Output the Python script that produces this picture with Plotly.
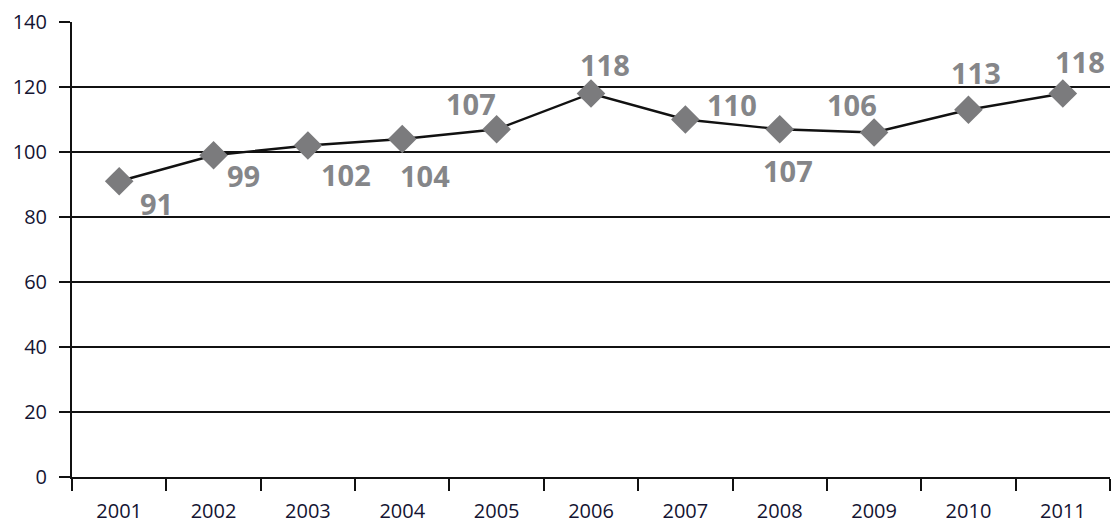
import plotly.graph_objects as go

years = ["2001", "2002", "2003", "2004", "2005", "2006", "2007", "2008", "2009", "2010", "2011"]
values = [91, 99, 102, 104, 107, 118, 110, 107, 106, 113, 118]

# pixel offsets of each value label from its marker
label_dx = [37, 30, 38, 23, -26, 14, 47, 8, -22, 8, 17]
label_dy = [-22, -20, -29, -36, 26, 29, 15, -41, 28, 37, 32]

fig = go.Figure()
fig.add_trace(go.Scatter(
    x=years, y=values, mode="lines+markers",
    line=dict(color="#111111", width=2.4),
    marker=dict(symbol="diamond", size=22, color="#7b7b7d"),
    cliponaxis=False, showlegend=False, hoverinfo="skip",
))

# on a category axis, annotations are placed by category index
for i, (v, dx, dy) in enumerate(zip(values, label_dx, label_dy)):
    fig.add_annotation(
        x=i, y=v, text=str(v), showarrow=False,
        xshift=dx, yshift=dy,
        font=dict(family="Open Sans", size=29, color="#858689", weight="bold"),
    )

tick_font = dict(family="Open Sans", size=20, color="#141432")

fig.update_layout(
    width=1115, height=523,
    margin=dict(l=72, r=5, t=22, b=46),
    paper_bgcolor="white", plot_bgcolor="white",
    xaxis=dict(
        type="category", tickson="boundaries",
        range=[-0.5, len(years) - 0.5], tickangle=0,
        showline=True, linecolor="#111111", linewidth=2,
        ticks="outside", ticklen=12, tickwidth=2, tickcolor="#111111",
        showgrid=False, tickfont=tick_font, fixedrange=True,
        ticklabelstandoff=15, automargin=False,
    ),
    yaxis=dict(
        range=[0, 140], dtick=20,
        showline=True, linecolor="#111111", linewidth=2,
        ticks="outside", ticklen=11, tickwidth=2, tickcolor="#111111",
        showgrid=True, gridcolor="#111111", gridwidth=2,
        zeroline=False, tickfont=tick_font, ticklabelstandoff=8,
        automargin=False,
    ),
)

fig.write_html("out.html")
